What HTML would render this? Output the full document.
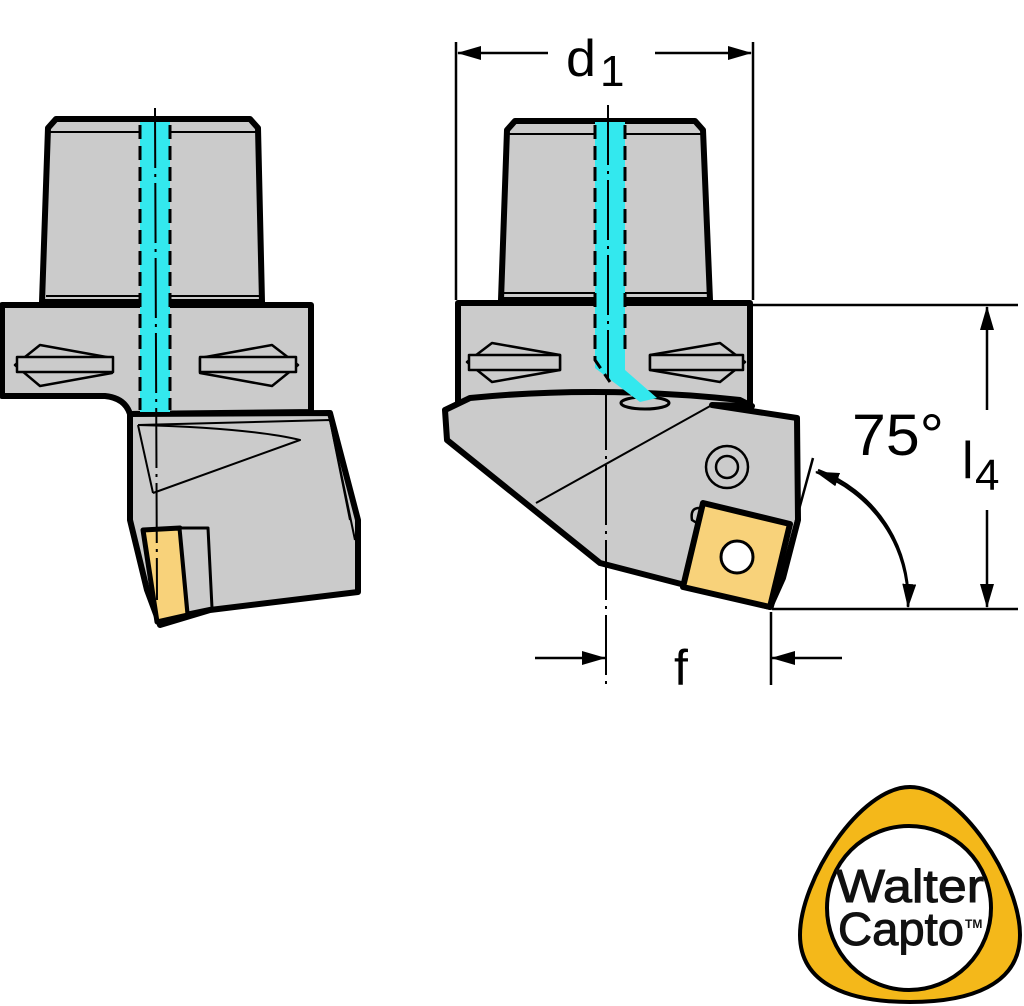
<!DOCTYPE html>
<html><head><meta charset="utf-8"><style>html,body{margin:0;padding:0;background:#fff}svg{display:block}</style></head>
<body>
<svg width="1024" height="1006" viewBox="0 0 1024 1006" xmlns="http://www.w3.org/2000/svg" font-family="Liberation Sans, DejaVu Sans, sans-serif">
<defs>
<marker id="ar" markerWidth="24" markerHeight="14" refX="23" refY="7" orient="auto" markerUnits="userSpaceOnUse" viewBox="0 0 24 14"><path d="M0,0 L24,7 L0,14 z" fill="#000"/></marker>
</defs>
<g stroke="#000" stroke-linejoin="round">
<!-- LEFT VIEW -->
<path d="M48,128 L56,119 L250,119 L258,128 L262,302 L42,302 Z" fill="#cbcbcb" stroke-width="6"/>
<line x1="50" y1="132" x2="256" y2="132" stroke-width="2"/>
<line x1="46" y1="296" x2="260" y2="296" stroke-width="2"/>
<path d="M2,305 L311,305 L311,412 L130,414 Q125,398 105,396 L2,396 Z" fill="#cbcbcb" stroke-width="6"/>
<path d="M15,365 L40,345 L112,358 L112,373 L40,386 Z" fill="#cbcbcb" stroke-width="2.5"/>
<rect x="17" y="357" width="96" height="15" fill="#cbcbcb" stroke-width="2.5"/>
<path d="M298,365 L272,345 L200,358 L200,373 L272,386 Z" fill="#cbcbcb" stroke-width="2.5"/>
<rect x="200" y="357" width="96" height="15" fill="#cbcbcb" stroke-width="2.5"/>
<path d="M130,414 L330,413 L358,520 L358,592 L210,610 L160,625 L147,590 L130,520 Z" fill="#cbcbcb" stroke-width="6"/>
<path d="M138,425 L330,420 L350,520" fill="none" stroke-width="2"/>
<path d="M138,425 Q250,428 300,440 L153,493" fill="none" stroke-width="2"/>
<line x1="138" y1="425" x2="153" y2="493" stroke-width="2"/>
<line x1="330" y1="420" x2="355" y2="540" stroke-width="2"/>
<path d="M143,530 L180,528 L188,615 L157,622 Z" fill="#f8d27a" stroke-width="5"/>
<path d="M180,528 L208,528 L212,608 L188,613 Z" fill="#cbcbcb" stroke-width="3"/>
<rect x="140" y="122" width="30" height="290" fill="#33e8ee" stroke="none"/>
<line x1="140" y1="125" x2="140" y2="410" stroke-width="3" stroke-dasharray="14,7"/>
<line x1="170" y1="125" x2="170" y2="410" stroke-width="3" stroke-dasharray="14,7"/>
<line x1="155" y1="108" x2="157" y2="600" stroke-width="2" stroke-dasharray="60,6,3,6"/>

<!-- RIGHT VIEW -->
<path d="M507,130 L515,121 L695,121 L703,130 L710,300 L501,300 Z" fill="#cbcbcb" stroke-width="6"/>
<line x1="508" y1="134" x2="702" y2="134" stroke-width="2"/>
<line x1="503" y1="293" x2="708" y2="293" stroke-width="2"/>
<path d="M458,303 L750,303 L750,405 L458,405 Z" fill="#cbcbcb" stroke-width="6"/>
<path d="M467,362 L492,343 L560,355 L560,370 L492,382 Z" fill="#cbcbcb" stroke-width="2.5"/>
<rect x="469" y="355" width="91" height="15" fill="#cbcbcb" stroke-width="2.5"/>
<path d="M745,362 L720,343 L650,355 L650,370 L720,382 Z" fill="#cbcbcb" stroke-width="2.5"/>
<rect x="650" y="355" width="93" height="15" fill="#cbcbcb" stroke-width="2.5"/>
<path d="M445,410 L470,398 Q600,385 740,400 L752,406 L712,405 L797,418 L798,520 L783,578 L770,607 L685,585 L600,563 L447,440 Z" fill="#cbcbcb" stroke-width="6"/>
<path d="M470,398 Q600,385 740,400" fill="none" stroke-width="2"/>
<path d="M712,405 L536,503" fill="none" stroke-width="2"/>
<ellipse cx="645" cy="403" rx="24" ry="6" fill="#cbcbcb" stroke-width="3"/>
<circle cx="727" cy="467" r="21" fill="none" stroke-width="2.5"/>
<circle cx="727" cy="467" r="11" fill="none" stroke-width="2.5"/>
<path d="M699,508 Q690,508 692,520 L700,525" fill="#cbcbcb" stroke-width="2.5"/>
<path d="M703,503 L790,524 L770,607 L683,587 Z" fill="#f8d27a" stroke-width="6"/>
<circle cx="737" cy="557" r="16" fill="#fff" stroke-width="3"/>
<path d="M595,122 L625,122 L625,370 L657,398 L640,402 L608,378 L595,368 Z" fill="#33e8ee" stroke="none"/>
<path d="M595,125 L595,360 L610,382" fill="none" stroke-width="3" stroke-dasharray="14,7"/>
<path d="M625,125 L625,355" fill="none" stroke-width="3" stroke-dasharray="14,7"/>
<line x1="608" y1="105" x2="608" y2="380" stroke-width="2" stroke-dasharray="60,6,3,6"/>
<line x1="606" y1="390" x2="606" y2="685" stroke-width="2" stroke-dasharray="60,6,3,6"/>

<!-- dimensions -->
<g stroke-width="2.5" fill="none">
<line x1="456" y1="42" x2="456" y2="300"/>
<line x1="753" y1="42" x2="753" y2="300"/>
<line x1="548" y1="53" x2="458" y2="53" marker-end="url(#ar)"/>
<line x1="655" y1="53" x2="751" y2="53" marker-end="url(#ar)"/>
<line x1="752" y1="305" x2="1018" y2="305"/>
<line x1="772" y1="609" x2="1018" y2="609"/>
<line x1="987" y1="410" x2="987" y2="307" marker-end="url(#ar)"/>
<line x1="987" y1="510" x2="987" y2="607" marker-end="url(#ar)"/>
<line x1="772" y1="609" x2="813" y2="458"/>
<path d="M818,470 A138,138 0 0 1 908,607" marker-end="url(#ar)"/>
<path d="M908,606 A138,138 0 0 0 816,472" marker-end="url(#ar)"/>
<line x1="771" y1="612" x2="771" y2="685"/>
<line x1="535" y1="658" x2="605" y2="658" marker-end="url(#ar)"/>
<line x1="842" y1="658" x2="772" y2="658" marker-end="url(#ar)"/>
</g>
</g>
<g fill="#000" stroke="none">
<text x="566" y="76" font-size="52" textLength="30" lengthAdjust="spacingAndGlyphs">d</text>
<text x="600" y="86" font-size="44">1</text>
<text x="852" y="455" font-size="58" textLength="92" lengthAdjust="spacingAndGlyphs">75°</text>
<text x="962" y="478" font-size="52">l</text>
<text x="975" y="490" font-size="44">4</text>
<text x="674" y="685" font-size="50">f</text>
</g>
<!-- logo -->
<path d="M910,787 C960,787 1020,880 1020,935 C1020,985 970,1002 910,1002 C850,1002 800,985 800,935 C800,880 860,787 910,787 Z" fill="#f4b81a" stroke="#000" stroke-width="4"/>
<circle cx="909" cy="908" r="82" fill="#fff" stroke="#000" stroke-width="4"/>
<text x="836" y="902" font-size="46" fill="#111" stroke="#111" stroke-width="1" textLength="148" lengthAdjust="spacingAndGlyphs">Walter</text>
<text x="838" y="945" font-size="46" fill="#111" stroke="#111" stroke-width="1" textLength="126" lengthAdjust="spacingAndGlyphs">Capto</text>
<text x="965" y="928" font-size="12" font-weight="bold" fill="#111">TM</text>
</svg>
</body></html>
